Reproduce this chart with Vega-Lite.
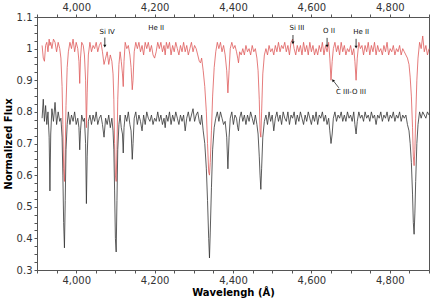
{
  "$schema": "https://vega.github.io/schema/vega-lite/v6.json",
  "width": 392,
  "height": 253,
  "autosize": {"type": "none"},
  "padding": {"left": 37, "top": 17, "right": 7, "bottom": 33},
  "background": "white",
  "config": {
    "font": "DejaVu Sans",
    "view": {"stroke": "#555", "strokeWidth": 1},
    "axis": {
      "domainColor": "#555",
      "tickColor": "#555",
      "labelColor": "#333",
      "labelFont": "DejaVu Sans",
      "labelFontSize": 10,
      "titleFont": "DejaVu Sans",
      "titleFontWeight": "bold",
      "titleFontSize": 10,
      "titleColor": "#000",
      "grid": false,
      "tickSize": 3
    }
  },
  "datasets": {
    "spec": [
      {"w":3913,"r":1.01,"b":0.78},{"w":3916,"r":0.97,"b":0.84},{"w":3919,"r":0.96,"b":0.77},{"w":3922,"r":1.01,"b":0.82},
      {"w":3925,"r":1.02,"b":0.76},{"w":3928,"r":0.99,"b":0.80},{"w":3931,"r":1.03,"b":0.72},{"w":3933,"r":1.01,"b":0.55},
      {"w":3935,"r":1.02,"b":0.73},{"w":3938,"r":1.00,"b":0.81},{"w":3942,"r":1.03,"b":0.77},{"w":3946,"r":1.02,"b":0.83},
      {"w":3950,"r":0.99,"b":0.76},{"w":3954,"r":1.02,"b":0.80},{"w":3958,"r":1.00,"b":0.77},{"w":3961,"r":0.97,"b":0.78},
      {"w":3964,"r":0.88,"b":0.72},{"w":3966,"r":0.76,"b":0.60},{"w":3968,"r":0.62,"b":0.45},{"w":3970,"r":0.58,"b":0.37},
      {"w":3972,"r":0.68,"b":0.52},{"w":3974,"r":0.82,"b":0.68},{"w":3977,"r":0.94,"b":0.76},{"w":3980,"r":0.99,"b":0.80},
      {"w":3984,"r":1.02,"b":0.76},{"w":3988,"r":1.00,"b":0.79},{"w":3992,"r":1.03,"b":0.77},{"w":3996,"r":0.99,"b":0.80},
      {"w":4000,"r":1.02,"b":0.76},{"w":4004,"r":1.00,"b":0.78},{"w":4007,"r":0.96,"b":0.75},{"w":4009,"r":0.89,"b":0.68},
      {"w":4011,"r":0.97,"b":0.74},{"w":4014,"r":1.02,"b":0.79},{"w":4018,"r":1.01,"b":0.77},{"w":4021,"r":0.98,"b":0.78},
      {"w":4024,"r":0.90,"b":0.70},{"w":4026,"r":0.75,"b":0.51},{"w":4028,"r":0.86,"b":0.66},{"w":4031,"r":0.98,"b":0.77},
      {"w":4035,"r":1.02,"b":0.79},{"w":4039,"r":0.99,"b":0.76},{"w":4043,"r":1.01,"b":0.79},{"w":4047,"r":1.00,"b":0.77},
      {"w":4051,"r":1.02,"b":0.80},{"w":4055,"r":0.99,"b":0.76},{"w":4059,"r":1.01,"b":0.78},{"w":4063,"r":1.02,"b":0.79},
      {"w":4067,"r":0.99,"b":0.76},{"w":4071,"r":0.95,"b":0.72},{"w":4075,"r":0.97,"b":0.78},{"w":4079,"r":0.99,"b":0.76},
      {"w":4083,"r":0.95,"b":0.79},{"w":4087,"r":0.98,"b":0.75},{"w":4091,"r":0.96,"b":0.78},{"w":4094,"r":0.92,"b":0.74},
      {"w":4096,"r":0.84,"b":0.68},{"w":4098,"r":0.70,"b":0.55},{"w":4100,"r":0.60,"b":0.40},{"w":4102,"r":0.58,"b":0.357},
      {"w":4104,"r":0.68,"b":0.52},{"w":4106,"r":0.84,"b":0.68},{"w":4109,"r":0.95,"b":0.76},{"w":4112,"r":0.99,"b":0.79},
      {"w":4115,"r":0.96,"b":0.75},{"w":4118,"r":0.92,"b":0.73},{"w":4120,"r":0.88,"b":0.67},{"w":4122,"r":0.96,"b":0.75},
      {"w":4125,"r":1.02,"b":0.79},{"w":4129,"r":1.00,"b":0.77},{"w":4133,"r":1.01,"b":0.80},{"w":4137,"r":0.98,"b":0.76},
      {"w":4140,"r":0.94,"b":0.74},{"w":4143,"r":0.87,"b":0.65},{"w":4145,"r":0.90,"b":0.70},{"w":4148,"r":0.99,"b":0.78},
      {"w":4152,"r":1.02,"b":0.80},{"w":4156,"r":1.00,"b":0.76},{"w":4160,"r":1.02,"b":0.79},{"w":4164,"r":0.99,"b":0.77},
      {"w":4168,"r":1.01,"b":0.74},{"w":4172,"r":0.98,"b":0.79},{"w":4176,"r":1.02,"b":0.76},{"w":4180,"r":1.00,"b":0.80},
      {"w":4184,"r":1.02,"b":0.78},{"w":4188,"r":0.99,"b":0.77},{"w":4192,"r":1.01,"b":0.79},{"w":4196,"r":0.98,"b":0.76},
      {"w":4200,"r":0.97,"b":0.78},{"w":4204,"r":0.99,"b":0.77},{"w":4208,"r":1.02,"b":0.80},{"w":4212,"r":1.00,"b":0.77},
      {"w":4216,"r":1.02,"b":0.79},{"w":4220,"r":0.99,"b":0.76},{"w":4224,"r":1.01,"b":0.78},{"w":4227,"r":0.98,"b":0.75},
      {"w":4230,"r":1.02,"b":0.79},{"w":4234,"r":1.00,"b":0.77},{"w":4238,"r":1.02,"b":0.80},{"w":4242,"r":0.98,"b":0.76},
      {"w":4246,"r":1.01,"b":0.79},{"w":4250,"r":0.99,"b":0.77},{"w":4254,"r":1.02,"b":0.80},{"w":4258,"r":1.00,"b":0.78},
      {"w":4262,"r":0.98,"b":0.76},{"w":4266,"r":1.01,"b":0.79},{"w":4270,"r":0.99,"b":0.77},{"w":4274,"r":1.02,"b":0.79},
      {"w":4278,"r":0.99,"b":0.74},{"w":4282,"r":1.01,"b":0.78},{"w":4286,"r":0.98,"b":0.80},{"w":4290,"r":1.00,"b":0.77},
      {"w":4294,"r":1.02,"b":0.79},{"w":4298,"r":0.99,"b":0.81},{"w":4302,"r":1.01,"b":0.77},{"w":4306,"r":1.00,"b":0.79},
      {"w":4310,"r":0.98,"b":0.80},{"w":4314,"r":0.96,"b":0.77},{"w":4317,"r":0.955,"b":0.76},{"w":4320,"r":0.97,"b":0.79},
      {"w":4324,"r":0.93,"b":0.74},{"w":4328,"r":0.88,"b":0.70},{"w":4332,"r":0.80,"b":0.62},{"w":4335,"r":0.70,"b":0.52},
      {"w":4338,"r":0.61,"b":0.40},{"w":4340,"r":0.60,"b":0.338},{"w":4342,"r":0.64,"b":0.42},{"w":4345,"r":0.74,"b":0.56},
      {"w":4348,"r":0.85,"b":0.68},{"w":4352,"r":0.94,"b":0.75},{"w":4356,"r":0.99,"b":0.78},{"w":4360,"r":1.02,"b":0.80},
      {"w":4364,"r":1.00,"b":0.77},{"w":4368,"r":1.02,"b":0.80},{"w":4372,"r":0.99,"b":0.78},{"w":4376,"r":1.01,"b":0.76},
      {"w":4380,"r":0.98,"b":0.77},{"w":4384,"r":0.93,"b":0.72},{"w":4387,"r":0.86,"b":0.62},{"w":4390,"r":0.93,"b":0.72},
      {"w":4393,"r":1.00,"b":0.78},{"w":4397,"r":1.02,"b":0.80},{"w":4401,"r":1.00,"b":0.76},{"w":4405,"r":1.01,"b":0.79},
      {"w":4409,"r":0.99,"b":0.78},{"w":4412,"r":0.97,"b":0.75},{"w":4414,"r":0.955,"b":0.74},{"w":4417,"r":0.99,"b":0.78},
      {"w":4421,"r":0.98,"b":0.80},{"w":4425,"r":1.00,"b":0.77},{"w":4429,"r":0.98,"b":0.79},{"w":4433,"r":1.01,"b":0.76},
      {"w":4437,"r":0.99,"b":0.79},{"w":4441,"r":1.00,"b":0.77},{"w":4445,"r":0.98,"b":0.80},{"w":4449,"r":1.01,"b":0.78},
      {"w":4453,"r":0.99,"b":0.76},{"w":4457,"r":1.00,"b":0.79},{"w":4461,"r":0.97,"b":0.76},{"w":4464,"r":0.93,"b":0.73},
      {"w":4467,"r":0.84,"b":0.66},{"w":4469,"r":0.74,"b":0.60},{"w":4471,"r":0.72,"b":0.555},{"w":4473,"r":0.80,"b":0.62},
      {"w":4476,"r":0.92,"b":0.72},{"w":4480,"r":0.98,"b":0.77},{"w":4484,"r":1.00,"b":0.79},{"w":4488,"r":0.98,"b":0.76},
      {"w":4492,"r":1.01,"b":0.80},{"w":4496,"r":0.99,"b":0.77},{"w":4500,"r":1.00,"b":0.79},{"w":4504,"r":0.98,"b":0.74},
      {"w":4508,"r":1.01,"b":0.78},{"w":4512,"r":0.99,"b":0.80},{"w":4516,"r":1.02,"b":0.77},{"w":4520,"r":0.99,"b":0.79},
      {"w":4524,"r":1.01,"b":0.76},{"w":4528,"r":1.00,"b":0.80},{"w":4532,"r":1.02,"b":0.78},{"w":4536,"r":0.99,"b":0.77},
      {"w":4540,"r":1.01,"b":0.80},{"w":4544,"r":0.98,"b":0.76},{"w":4548,"r":1.02,"b":0.79},{"w":4552,"r":1.03,"b":0.78},
      {"w":4556,"r":1.00,"b":0.80},{"w":4560,"r":0.98,"b":0.76},{"w":4564,"r":1.01,"b":0.79},{"w":4568,"r":0.99,"b":0.77},
      {"w":4572,"r":1.01,"b":0.80},{"w":4576,"r":0.98,"b":0.78},{"w":4580,"r":1.02,"b":0.76},{"w":4584,"r":0.99,"b":0.79},
      {"w":4588,"r":1.01,"b":0.77},{"w":4592,"r":0.98,"b":0.80},{"w":4596,"r":1.02,"b":0.78},{"w":4600,"r":0.99,"b":0.76},
      {"w":4604,"r":1.01,"b":0.79},{"w":4608,"r":0.98,"b":0.77},{"w":4612,"r":1.00,"b":0.80},{"w":4616,"r":0.98,"b":0.76},
      {"w":4620,"r":1.01,"b":0.79},{"w":4624,"r":0.99,"b":0.78},{"w":4628,"r":1.02,"b":0.80},{"w":4632,"r":0.98,"b":0.77},
      {"w":4636,"r":1.01,"b":0.79},{"w":4640,"r":0.99,"b":0.76},{"w":4644,"r":1.02,"b":0.78},{"w":4647,"r":0.97,"b":0.74},
      {"w":4650,"r":0.90,"b":0.70},{"w":4653,"r":0.96,"b":0.73},{"w":4656,"r":1.00,"b":0.78},{"w":4660,"r":1.02,"b":0.80},
      {"w":4664,"r":0.99,"b":0.77},{"w":4668,"r":1.01,"b":0.79},{"w":4672,"r":0.98,"b":0.78},{"w":4676,"r":1.02,"b":0.80},
      {"w":4680,"r":0.99,"b":0.77},{"w":4684,"r":1.01,"b":0.79},{"w":4688,"r":0.98,"b":0.77},{"w":4692,"r":1.00,"b":0.80},
      {"w":4696,"r":0.99,"b":0.78},{"w":4700,"r":1.01,"b":0.79},{"w":4704,"r":0.98,"b":0.77},{"w":4708,"r":1.00,"b":0.80},
      {"w":4711,"r":0.96,"b":0.76},{"w":4714,"r":0.90,"b":0.73},{"w":4717,"r":0.97,"b":0.77},{"w":4721,"r":1.02,"b":0.80},
      {"w":4725,"r":1.00,"b":0.78},{"w":4729,"r":1.01,"b":0.79},{"w":4733,"r":0.98,"b":0.77},{"w":4737,"r":1.01,"b":0.80},
      {"w":4741,"r":0.99,"b":0.78},{"w":4745,"r":1.02,"b":0.79},{"w":4749,"r":0.98,"b":0.77},{"w":4753,"r":1.01,"b":0.80},
      {"w":4757,"r":0.99,"b":0.78},{"w":4761,"r":1.02,"b":0.79},{"w":4765,"r":0.98,"b":0.76},{"w":4769,"r":1.01,"b":0.79},
      {"w":4773,"r":0.99,"b":0.78},{"w":4777,"r":1.00,"b":0.80},{"w":4781,"r":0.98,"b":0.77},{"w":4785,"r":1.01,"b":0.79},
      {"w":4789,"r":0.99,"b":0.78},{"w":4793,"r":1.02,"b":0.80},{"w":4797,"r":0.98,"b":0.77},{"w":4801,"r":1.00,"b":0.79},
      {"w":4805,"r":0.99,"b":0.78},{"w":4809,"r":1.01,"b":0.80},{"w":4813,"r":0.98,"b":0.77},{"w":4817,"r":1.00,"b":0.79},
      {"w":4821,"r":0.99,"b":0.78},{"w":4825,"r":1.01,"b":0.80},{"w":4829,"r":0.98,"b":0.77},{"w":4833,"r":1.00,"b":0.79},
      {"w":4837,"r":0.99,"b":0.78},{"w":4841,"r":0.98,"b":0.79},{"w":4845,"r":0.97,"b":0.76},{"w":4849,"r":0.95,"b":0.74},
      {"w":4852,"r":0.91,"b":0.70},{"w":4855,"r":0.85,"b":0.64},{"w":4858,"r":0.75,"b":0.54},{"w":4860,"r":0.66,"b":0.45},
      {"w":4862,"r":0.63,"b":0.413},{"w":4864,"r":0.68,"b":0.48},{"w":4866,"r":0.78,"b":0.58},{"w":4869,"r":0.90,"b":0.70},
      {"w":4872,"r":0.97,"b":0.76},{"w":4876,"r":1.02,"b":0.80},{"w":4880,"r":1.00,"b":0.78},{"w":4884,"r":1.04,"b":0.80},
      {"w":4888,"r":0.99,"b":0.79},{"w":4892,"r":1.01,"b":0.78},{"w":4896,"r":0.98,"b":0.80},{"w":4900,"r":1.00,"b":0.79}
    ],
    "labels": [
      {"w":4079,"f":1.053,"t":"Si IV"},
      {"w":4204,"f":1.065,"t":"He II"},
      {"w":4563,"f":1.065,"t":"Si III"},
      {"w":4645,"f":1.056,"t":"O II"},
      {"w":4727,"f":1.053,"t":"He II"},
      {"w":4701,"f":0.863,"t":"C III-O III"}
    ],
    "arrows": [
      {"w":4073,"f1":1.035,"f2":1.008},
      {"w":4553,"f1":1.043,"f2":1.018},
      {"w":4640,"f1":1.034,"f2":1.008},
      {"w":4714,"f1":1.031,"f2":1.005}
    ],
    "diag": [
      {"w1":4670,"f1":0.876,"w2":4655,"f2":0.900}
    ]
  },
  "resolve": {"axis": {"x": "independent", "y": "independent"}},
  "layer": [
    {
      "data": {"name": "spec"},
      "mark": {"type": "line", "color": "#de5a5a", "strokeWidth": 0.8},
      "encoding": {
        "x": {"field": "w", "type": "quantitative",
              "scale": {"domain": [3900, 4900], "nice": false, "zero": false},
              "axis": {"orient": "bottom", "title": "Wavelengh (Å)",
                       "values": [3900,3950,4000,4050,4100,4150,4200,4250,4300,4350,4400,4450,4500,4550,4600,4650,4700,4750,4800,4850,4900],
                       "labelExpr": "datum.value % 200 == 0 && datum.value > 3900 && datum.value < 4900 ? format(datum.value, ',') : ''",
                       "labelOverlap": false, "labelBound": false,
                       "titlePadding": 2, "labelPadding": 2}},
        "y": {"field": "r", "type": "quantitative",
              "scale": {"domain": [0.3, 1.1], "nice": false, "zero": false},
              "axis": {"orient": "left", "title": "Normalized Flux",
                       "values": [0.3,0.325,0.35,0.375,0.4,0.425,0.45,0.475,0.5,0.525,0.55,0.575,0.6,0.625,0.65,0.675,0.7,0.725,0.75,0.775,0.8,0.825,0.85,0.875,0.9,0.925,0.95,0.975,1,1.025,1.05,1.075,1.1],
                       "labelExpr": "abs(datum.value*10 - round(datum.value*10)) < 0.001 ? format(datum.value, '~g') : ''",
                       "labelOverlap": false, "labelBound": false, "labelFlush": false,
                       "titlePadding": 3, "labelPadding": 2}}
      }
    },
    {
      "data": {"name": "spec"},
      "mark": {"type": "line", "color": "#333333", "strokeWidth": 0.8},
      "encoding": {
        "x": {"field": "w", "type": "quantitative",
              "axis": {"orient": "top", "title": null,
                       "values": [3900,3950,4000,4050,4100,4150,4200,4250,4300,4350,4400,4450,4500,4550,4600,4650,4700,4750,4800,4850,4900],
                       "labelExpr": "datum.value % 200 == 0 && datum.value > 3900 && datum.value < 4900 ? format(datum.value, ',') : ''",
                       "labelOverlap": false, "labelBound": false,
                       "labelPadding": 2}},
        "y": {"field": "b", "type": "quantitative", "axis": null}
      }
    },
    {
      "data": {"name": "labels"},
      "mark": {"type": "text", "fontSize": 7, "color": "#111", "baseline": "middle", "align": "center"},
      "encoding": {
        "x": {"field": "w", "type": "quantitative", "axis": null},
        "y": {"field": "f", "type": "quantitative", "axis": null},
        "text": {"field": "t"}
      }
    },
    {
      "data": {"name": "arrows"},
      "mark": {"type": "rule", "color": "#111", "strokeWidth": 0.8},
      "encoding": {
        "x": {"field": "w", "type": "quantitative", "axis": null},
        "y": {"field": "f1", "type": "quantitative", "axis": null},
        "y2": {"field": "f2"}
      }
    },
    {
      "data": {"name": "arrows"},
      "mark": {"type": "point", "shape": "triangle-down", "filled": true, "color": "#111", "size": 10, "opacity": 1},
      "encoding": {
        "x": {"field": "w", "type": "quantitative", "axis": null},
        "y": {"field": "f2", "type": "quantitative", "axis": null}
      }
    },
    {
      "data": {"name": "diag"},
      "mark": {"type": "rule", "color": "#111", "strokeWidth": 0.7},
      "encoding": {
        "x": {"field": "w1", "type": "quantitative", "axis": null},
        "x2": {"field": "w2"},
        "y": {"field": "f1", "type": "quantitative", "axis": null},
        "y2": {"field": "f2"}
      }
    },
    {
      "data": {"name": "diag"},
      "mark": {"type": "point", "shape": "triangle-up", "filled": true, "color": "#111", "size": 10, "opacity": 1, "angle": -37},
      "encoding": {
        "x": {"field": "w2", "type": "quantitative", "axis": null},
        "y": {"field": "f2", "type": "quantitative", "axis": null}
      }
    }
  ]
}
